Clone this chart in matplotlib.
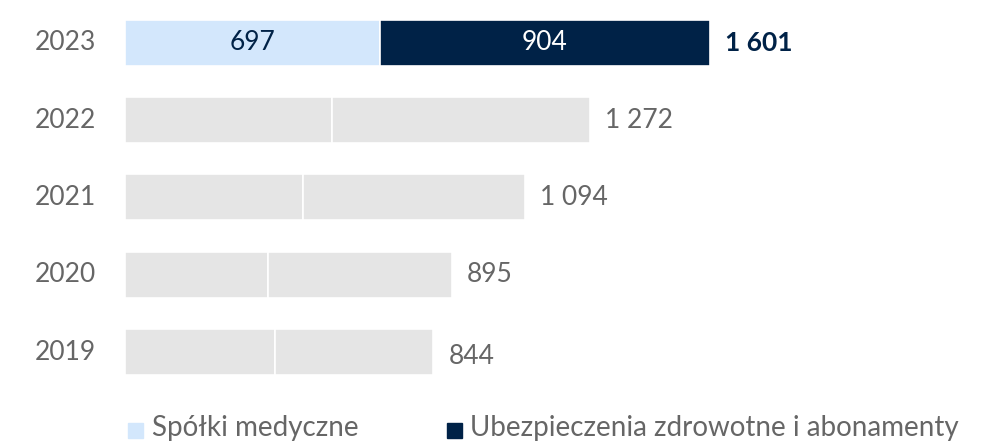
import matplotlib
matplotlib.use('Agg')
import matplotlib.pyplot as plt
from matplotlib.patches import Rectangle

years = ["2023", "2022", "2021", "2020", "2019"]
medical = [697, 568, 488, 392, 410]
insurance = [904, 704, 606, 503, 434]
totals = ["1 601", "1 272", "1 094", "895", "844"]
legend_labels = ["Spółki medyczne", "Ubezpieczenia zdrowotne i abonamenty"]

LIGHT = "#D3E7FC"
NAVY = "#002247"
GREY = "#E5E5E5"
TXT = "#666666"
FONT = "Lato"
FS = 19

W, H = 1002, 448
fig = plt.figure(figsize=(W / 100, H / 100), dpi=100)
ax = fig.add_axes([0, 0, 1, 1])
ax.axis('off')

# pixel layout: bars start at x=125, 0.3652 px per unit; rows every 77.25 px from y=43
px_per = 0.3652
x0 = 125
ax.set_xlim(-x0 / px_per, (W - x0) / px_per)
ax.set_ylim((H - 43) / 77.25, -43 / 77.25)
bh = 46 / 77.25

for i, (y, m, s) in enumerate(zip(years, medical, insurance)):
    c1, c2 = (LIGHT, NAVY) if i == 0 else (GREY, GREY)
    ax.barh(i, m, height=bh, color=c1, edgecolor='white', linewidth=1.2)
    ax.barh(i, s, left=m, height=bh, color=c2, edgecolor='white', linewidth=1.2)
    ax.text(-(x0 - 96) / px_per, i, y, ha='right', va='center',
            fontsize=FS, color=TXT, family=FONT)
    ax.annotate(totals[i], (m + s, i), xytext=(11, -3 if i == 4 else 0),
                textcoords='offset points',
                ha='left', va='center', fontsize=FS, family=FONT,
                color=NAVY if i == 0 else TXT,
                fontweight='bold' if i == 0 else 'normal')
    if i == 0:
        ax.text(m / 2, i, str(m), ha='center', va='center', fontsize=FS,
                color=NAVY, family=FONT)
        ax.text(m + s / 2, i, str(s), ha='center', va='center', fontsize=FS,
                color='white', family=FONT)

# legend
for (sx, tx, col, lab) in [(128, 152, LIGHT, legend_labels[0]),
                           (447, 470, NAVY, legend_labels[1])]:
    fig.patches.append(Rectangle((sx / W, 1 - 438 / H), 15 / W, 15 / H,
                                 transform=fig.transFigure, color=col))
    fig.text(tx / W, 1 - 428 / H, lab, ha='left', va='center',
             fontsize=20, color=TXT, family=FONT)

fig.savefig("out.png", dpi=100)
